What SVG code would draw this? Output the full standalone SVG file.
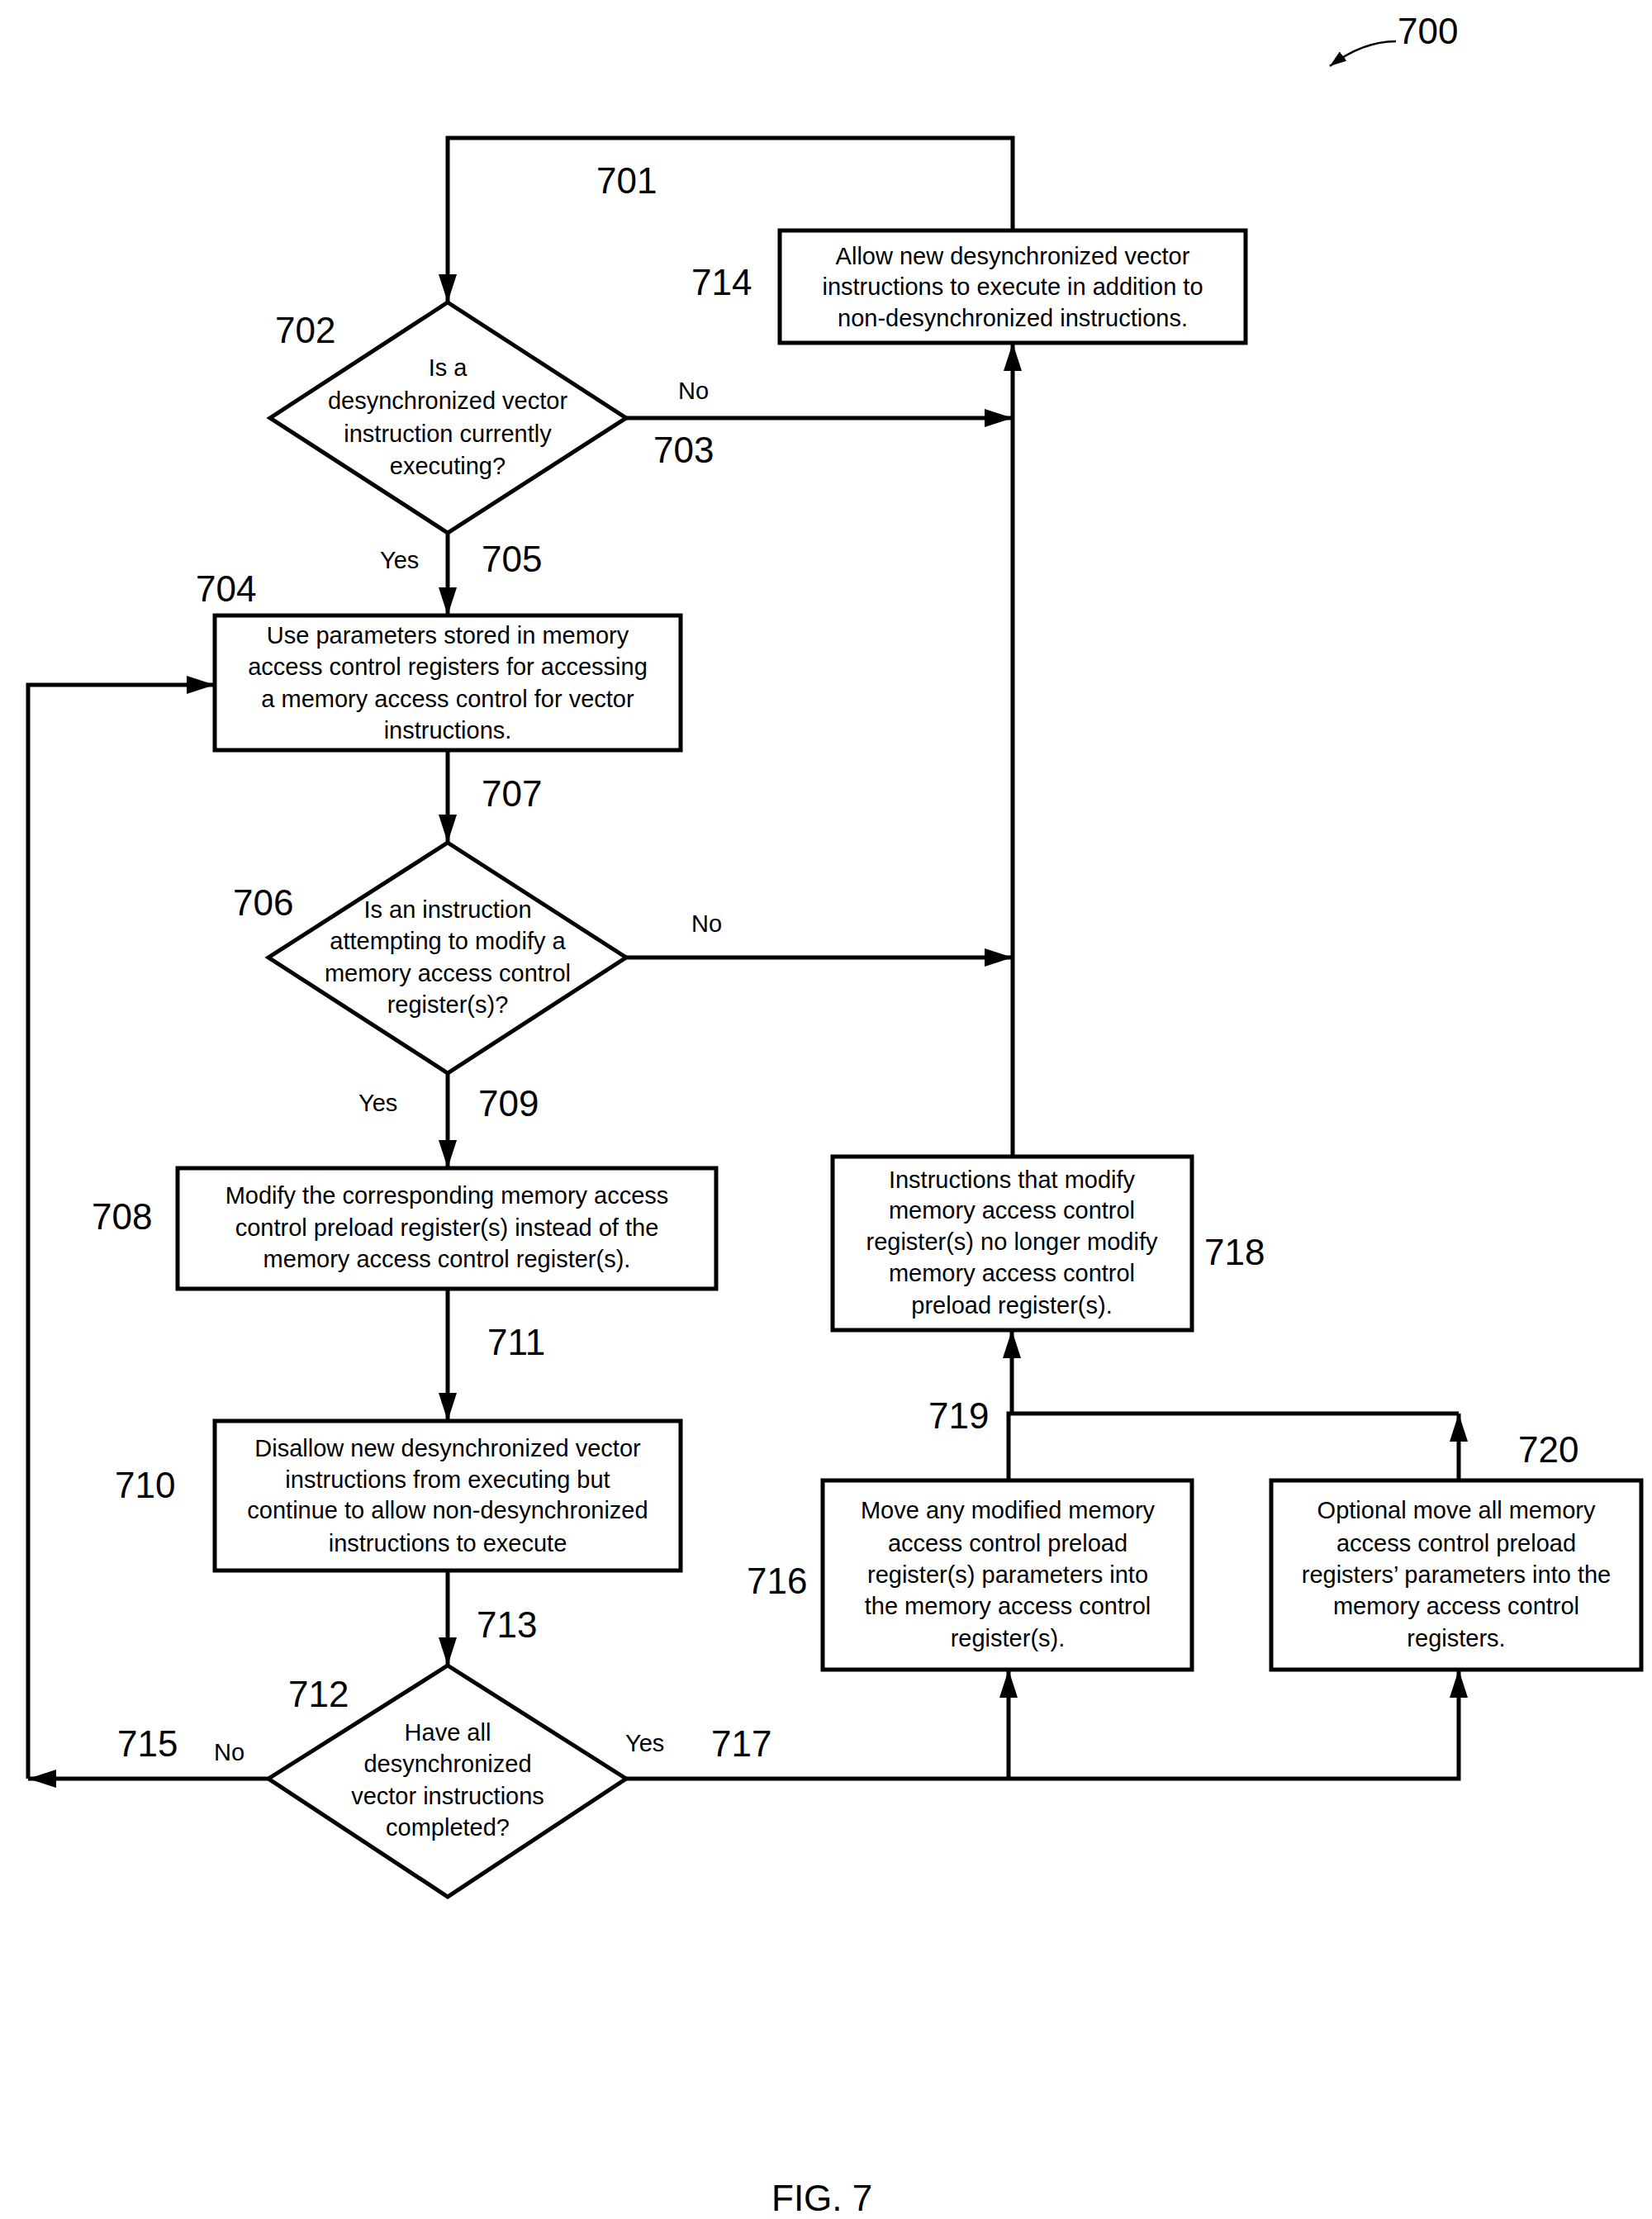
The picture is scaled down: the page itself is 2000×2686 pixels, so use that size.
<svg xmlns="http://www.w3.org/2000/svg" width="2000" height="2686" viewBox="0 0 2000 2686">
<style>
.s{fill:#fff;stroke:#000;stroke-width:5}
.t{font-family:"Liberation Sans",Arial,sans-serif;font-size:29px;text-anchor:middle;fill:#000}
.l{font-family:"Liberation Sans",Arial,sans-serif;font-size:44px;fill:#000}
.y{font-family:"Liberation Sans",Arial,sans-serif;font-size:29px;fill:#000}
.c{fill:none;stroke:#000;stroke-width:5}
</style>
<defs>
<marker id="a" viewBox="0 0 34 22" refX="34" refY="11" markerWidth="34" markerHeight="22" markerUnits="userSpaceOnUse" orient="auto"><path d="M0,0L34,11L0,22z" fill="#000"/></marker>
<marker id="b" viewBox="0 0 20 14" refX="20" refY="7" markerWidth="20" markerHeight="14" markerUnits="userSpaceOnUse" orient="auto"><path d="M0,0L20,7L0,14z" fill="#000"/></marker>
</defs>
<g id="connectors">
<path class="c" d="M1226,279V167H542V366" marker-end="url(#a)"/>
<path class="c" d="M758,506H1226" marker-end="url(#a)"/>
<path class="c" d="M1226,1400V415" marker-end="url(#a)"/>
<path class="c" d="M542,645V745" marker-end="url(#a)"/>
<path class="c" d="M542,908V1020" marker-end="url(#a)"/>
<path class="c" d="M758,1159H1226" marker-end="url(#a)"/>
<path class="c" d="M542,1299V1414" marker-end="url(#a)"/>
<path class="c" d="M542,1560V1720" marker-end="url(#a)"/>
<path class="c" d="M542,1901V2016" marker-end="url(#a)"/>
<path class="c" d="M325,2153H34" marker-end="url(#a)"/>
<path class="c" d="M34,2153V829H260" marker-end="url(#a)"/>
<path class="c" d="M758,2153H1766V2021" marker-end="url(#a)"/>
<path class="c" d="M1221,2153V2021" marker-end="url(#a)"/>
<path class="c" d="M1221,1792V1711H1766"/>
<path class="c" d="M1766,1792V1711" marker-end="url(#a)"/>
<path class="c" d="M1225,1711V1610" marker-end="url(#a)"/>
<path fill="none" stroke="#000" stroke-width="2.5" d="M1690,50Q1650,50 1610,80" marker-end="url(#b)"/>
</g>
<g id="n714"><rect class="s" x="944" y="279" width="564" height="136"/>
<text class="t" x="1226" y="320">Allow new desynchronized vector</text><text class="t" x="1226" y="357">instructions to execute in addition to</text><text class="t" x="1226" y="395">non-desynchronized instructions.</text></g>
<g id="n702"><polygon class="s" points="542,366 758,506 542,645 327,506"/>
<text class="t" x="542" y="455">Is a</text><text class="t" x="542" y="495">desynchronized vector</text><text class="t" x="542" y="535">instruction currently</text><text class="t" x="542" y="574">executing?</text></g>
<g id="n704"><rect class="s" x="260" y="745" width="564" height="163"/>
<text class="t" x="542" y="779">Use parameters stored in memory</text><text class="t" x="542" y="817">access control registers for accessing</text><text class="t" x="542" y="856">a memory access control for vector</text><text class="t" x="542" y="894">instructions.</text></g>
<g id="n706"><polygon class="s" points="542,1020 758,1159 542,1299 325,1159"/>
<text class="t" x="542" y="1111">Is an instruction</text><text class="t" x="542" y="1149">attempting to modify a</text><text class="t" x="542" y="1188">memory access control</text><text class="t" x="542" y="1226">register(s)?</text></g>
<g id="n708"><rect class="s" x="215" y="1414" width="652" height="146"/>
<text class="t" x="541" y="1457">Modify the corresponding memory access</text><text class="t" x="541" y="1496">control preload register(s) instead of the</text><text class="t" x="541" y="1534">memory access control register(s).</text></g>
<g id="n710"><rect class="s" x="260" y="1720" width="564" height="181"/>
<text class="t" x="542" y="1763">Disallow new desynchronized vector</text><text class="t" x="542" y="1801">instructions from executing but</text><text class="t" x="542" y="1838">continue to allow non-desynchronized</text><text class="t" x="542" y="1878">instructions to execute</text></g>
<g id="n712"><polygon class="s" points="542,2016 758,2153 542,2296 325,2153"/>
<text class="t" x="542" y="2107">Have all</text><text class="t" x="542" y="2145">desynchronized</text><text class="t" x="542" y="2184">vector instructions</text><text class="t" x="542" y="2222">completed?</text></g>
<g id="n716"><rect class="s" x="996" y="1792" width="447" height="229"/>
<text class="t" x="1220" y="1838">Move any modified memory</text><text class="t" x="1220" y="1878">access control preload</text><text class="t" x="1220" y="1916">register(s) parameters into</text><text class="t" x="1220" y="1954">the memory access control</text><text class="t" x="1220" y="1993">register(s).</text></g>
<g id="n720"><rect class="s" x="1539" y="1792" width="448" height="229"/>
<text class="t" x="1763" y="1838">Optional move all memory</text><text class="t" x="1763" y="1878">access control preload</text><text class="t" x="1763" y="1916">registers’ parameters into the</text><text class="t" x="1763" y="1954">memory access control</text><text class="t" x="1763" y="1993">registers.</text></g>
<g id="n718"><rect class="s" x="1008" y="1400" width="435" height="210"/>
<text class="t" x="1225" y="1438">Instructions that modify</text><text class="t" x="1225" y="1475">memory access control</text><text class="t" x="1225" y="1513">register(s) no longer modify</text><text class="t" x="1225" y="1551">memory access control</text><text class="t" x="1225" y="1590">preload register(s).</text></g>
<g id="labels">
<text class="l" x="1692" y="53">700</text>
<text class="l" x="722" y="234">701</text>
<text class="l" x="837" y="357">714</text>
<text class="l" x="333" y="415">702</text>
<text class="y" x="821" y="483">No</text>
<text class="l" x="791" y="560">703</text>
<text class="y" x="460" y="688">Yes</text>
<text class="l" x="583" y="692">705</text>
<text class="l" x="237" y="728">704</text>
<text class="l" x="583" y="976">707</text>
<text class="l" x="282" y="1108">706</text>
<text class="y" x="837" y="1128">No</text>
<text class="y" x="434" y="1345">Yes</text>
<text class="l" x="579" y="1351">709</text>
<text class="l" x="111" y="1488">708</text>
<text class="l" x="1458" y="1531">718</text>
<text class="l" x="590" y="1640">711</text>
<text class="l" x="1124" y="1729">719</text>
<text class="l" x="1838" y="1770">720</text>
<text class="l" x="139" y="1813">710</text>
<text class="l" x="904" y="1929">716</text>
<text class="l" x="577" y="1982">713</text>
<text class="l" x="349" y="2066">712</text>
<text class="l" x="142" y="2126">715</text>
<text class="y" x="259" y="2131">No</text>
<text class="y" x="757" y="2120">Yes</text>
<text class="l" x="861" y="2126">717</text>
<text class="l" x="934" y="2676">FIG. 7</text>
</g>
</svg>
